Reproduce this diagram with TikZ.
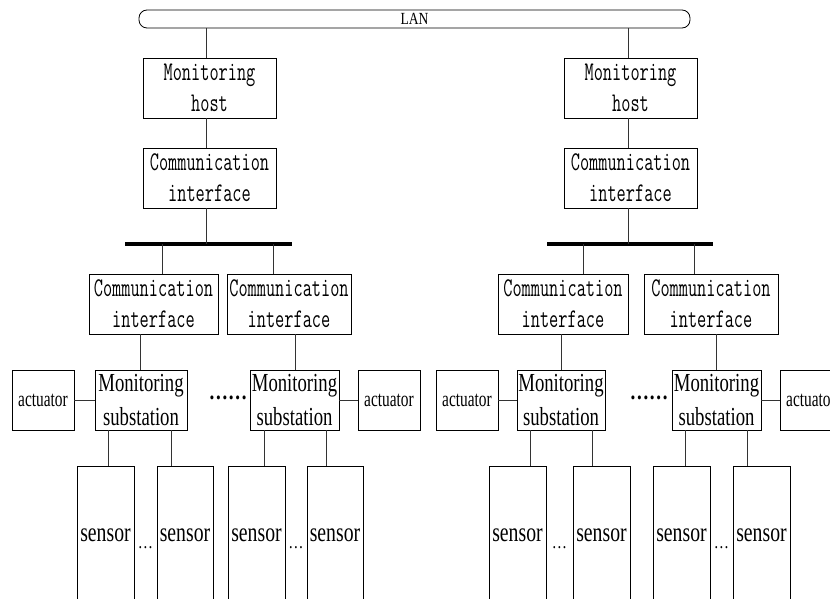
\documentclass[tikz,border=0pt]{standalone}
\usepackage{fontspec}
\newfontfamily\serA{Liberation Serif}[FakeStretch=0.72]
\newfontfamily\serB{Liberation Serif}[FakeStretch=0.73]
\newfontfamily\serC{Liberation Serif}[FakeStretch=0.70]
\newfontfamily\serD{Liberation Serif}[FakeStretch=0.80]
\newcommand\mtx[1]{\scalebox{0.66}[1]{#1}}
\begin{document}
\begin{tikzpicture}[x=1pt,y=-1pt,
  box/.style={draw=black, line width=0.8pt, rectangle, inner sep=0pt, align=center},
  upbox/.style={box, font=\fontsize{27}{31}\selectfont\ttfamily, minimum height=60pt},
  subbox/.style={box, font=\fontsize{26}{34}\selectfont\serA, minimum height=60pt},
  actbox/.style={box, font=\fontsize{22}{25}\selectfont\serC, minimum width=62pt, minimum height=60pt},
  sensbox/.style={box, font=\fontsize{27}{30}\selectfont\serB, minimum width=57pt, minimum height=138pt},
  busbar/.style={fill=black, draw=none, inner sep=0pt, minimum height=3.5pt},
  conn/.style={draw=black!80, line width=0.9pt},
  bigdots/.style={inner sep=0pt, font=\fontsize{24}{28}\selectfont\serD\bfseries},
  smalldots/.style={inner sep=0pt, font=\fontsize{19}{20}\selectfont\serD}
]
\useasboundingbox (0,0) rectangle (830,599);
\clip (0,0) rectangle (830,599);
\fill[white] (0,0) rectangle (830,599);

% LAN
\node[draw=black, line width=0.8pt, rounded corners=8pt, minimum width=551pt, minimum height=18pt, inner sep=0pt,
      font=\fontsize{17}{18}\selectfont\serD] (lan) at (414.5,19) {LAN};

% ---------- left half ----------
\node[upbox, minimum width=133pt] (host1) at (209.5,88) {\mtx{Monitoring}\\\mtx{host}};
\node[upbox, minimum width=133pt] (ci1) at (209.5,178) {\mtx{Communication}\\\mtx{interface}};
\node[busbar, minimum width=167pt] (bus1) at (208.5,244) {};
\node[upbox, minimum width=129pt] (ci11) at (153.5,304) {\mtx{Communication}\\\mtx{interface}};
\node[upbox, minimum width=124pt] (ci12) at (289,304) {\mtx{Communication}\\\mtx{interface}};
\node[actbox] (act11) at (43,400) {actuator};
\node[subbox, minimum width=92pt] (ms11) at (141,400) {Monitoring\\substation};
\node[subbox, minimum width=89pt] (ms12) at (294.5,400) {Monitoring\\substation};
\node[actbox] (act12) at (389,400) {actuator};
\node[bigdots] (dots1) at (228,398) {……};
\node[sensbox] (s111) at (105.5,535) {sensor};
\node[sensbox, minimum width=56pt] (s112) at (185,535) {sensor};
\node[sensbox] (s121) at (256.5,535) {sensor};
\node[sensbox, minimum width=56pt] (s122) at (335,535) {sensor};
\node[smalldots] (d11) at (145.5,548) {…};
\node[smalldots] (d12) at (296,548) {…};

\draw[conn] ([xshift=-3.5pt]host1.north) -- ([xshift=-3.5pt]host1.north |- lan.south);
\draw[conn] ([xshift=-3.5pt]host1.south) -- ([xshift=-3.5pt]ci1.north);
\draw[conn] ([xshift=-3.5pt]ci1.south) -- ([xshift=-3.5pt]ci1.south |- bus1.center);
\draw[conn] ([xshift=8.5pt]ci11.north) -- ([xshift=8.5pt]ci11.north |- bus1.center);
\draw[conn] ([xshift=-16pt]ci12.north) -- ([xshift=-16pt]ci12.north |- bus1.center);
\draw[conn] ([xshift=-1pt]ms11.north) -- ([xshift=-1pt]ms11.north |- ci11.south);
\draw[conn] ([xshift=0.5pt]ms12.north) -- ([xshift=0.5pt]ms12.north |- ci12.south);
\draw[conn] (act11.east) -- (ms11.west);
\draw[conn] (ms12.east) -- (act12.west);
\draw[conn] ([xshift=2.5pt]s111.north) -- ([xshift=2.5pt]s111.north |- ms11.south);
\draw[conn] ([xshift=-14pt]s112.north) -- ([xshift=-14pt]s112.north |- ms11.south);
\draw[conn] ([xshift=7.5pt]s121.north) -- ([xshift=7.5pt]s121.north |- ms12.south);
\draw[conn] ([xshift=-9pt]s122.north) -- ([xshift=-9pt]s122.north |- ms12.south);

% ---------- right half ----------
\node[upbox, minimum width=133pt] (host2) at (630.5,88) {\mtx{Monitoring}\\\mtx{host}};
\node[upbox, minimum width=133pt] (ci2) at (630.5,178) {\mtx{Communication}\\\mtx{interface}};
\node[busbar, minimum width=166pt] (bus2) at (630,244) {};
\node[upbox, minimum width=130pt] (ci21) at (563,304) {\mtx{Communication}\\\mtx{interface}};
\node[upbox, minimum width=134pt] (ci22) at (711,304) {\mtx{Communication}\\\mtx{interface}};
\node[actbox] (act21) at (467,400) {actuator};
\node[subbox, minimum width=88pt] (ms21) at (561,400) {Monitoring\\substation};
\node[subbox, minimum width=89pt] (ms22) at (716.5,400) {Monitoring\\substation};
\node[actbox] (act22) at (811,400) {actuator};
\node[bigdots] (dots2) at (649,398) {……};
\node[sensbox] (s211) at (517.5,535) {sensor};
\node[sensbox] (s212) at (601.5,535) {sensor};
\node[sensbox] (s221) at (681.5,535) {sensor};
\node[sensbox] (s222) at (761.5,535) {sensor};
\node[smalldots] (d21) at (559.5,548) {…};
\node[smalldots] (d22) at (721.5,548) {…};

\draw[conn] ([xshift=-2.5pt]host2.north) -- ([xshift=-2.5pt]host2.north |- lan.south);
\draw[conn] ([xshift=-2.5pt]host2.south) -- ([xshift=-2.5pt]ci2.north);
\draw[conn] ([xshift=-2.5pt]ci2.south) -- ([xshift=-2.5pt]ci2.south |- bus2.center);
\draw[conn] ([xshift=20pt]ci21.north) -- ([xshift=20pt]ci21.north |- bus2.center);
\draw[conn] ([xshift=-17pt]ci22.north) -- ([xshift=-17pt]ci22.north |- bus2.center);
\draw[conn] (ms21.north) -- (ms21.north |- ci21.south);
\draw[conn] ([xshift=-0.5pt]ms22.north) -- ([xshift=-0.5pt]ms22.north |- ci22.south);
\draw[conn] (act21.east) -- (ms21.west);
\draw[conn] (ms22.east) -- (act22.west);
\draw[conn] ([xshift=12.5pt]s211.north) -- ([xshift=12.5pt]s211.north |- ms21.south);
\draw[conn] ([xshift=-9.5pt]s212.north) -- ([xshift=-9.5pt]s212.north |- ms21.south);
\draw[conn] ([xshift=3.5pt]s221.north) -- ([xshift=3.5pt]s221.north |- ms22.south);
\draw[conn] ([xshift=-14.5pt]s222.north) -- ([xshift=-14.5pt]s222.north |- ms22.south);
\end{tikzpicture}
\end{document}
